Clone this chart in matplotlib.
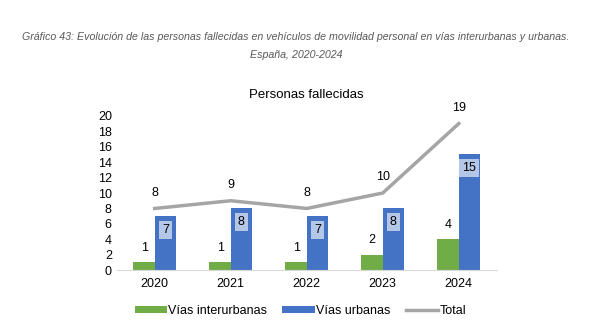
import matplotlib.pyplot as plt
import numpy as np

years = ['2020', '2021', '2022', '2023', '2024']
interurbanas = [1, 1, 1, 2, 4]
urbanas = [7, 8, 7, 8, 15]
total = [8, 9, 8, 10, 19]

plt.rcParams['font.family'] = ['Liberation Sans', 'DejaVu Sans']

fig = plt.figure(figsize=(6.08, 3.36), dpi=100)
ax = fig.add_axes([0.192, 0.196, 0.625, 0.459])

x = np.arange(len(years))
w = 0.28
b1 = ax.bar(x - w / 2, interurbanas, width=w, color='#70ad47', label='Vías interurbanas')
b2 = ax.bar(x + w / 2, urbanas, width=w, color='#4472c4', label='Vías urbanas')
l1, = ax.plot(x, total, color='#a5a5a5', linewidth=2.5, label='Total')

for i in range(len(years)):
    ax.annotate(str(interurbanas[i]), (x[i] - w / 2, interurbanas[i]), xytext=(0, 6),
                textcoords='offset points', ha='center', va='bottom', fontsize=9)
    ax.annotate(str(urbanas[i]), (x[i] + w / 2, urbanas[i]), xytext=(0, -10),
                textcoords='offset points', ha='center', va='center', fontsize=9,
                bbox=dict(boxstyle='square,pad=0.25', fc='#b4c7e7', ec='none'))
    ax.annotate(str(total[i]), (x[i], total[i]), xytext=(0, 7),
                textcoords='offset points', ha='center', va='bottom', fontsize=9)

ax.set_xlim(-0.5, 4.5)
ax.set_ylim(0, 20)
ax.set_yticks(range(0, 21, 2))
ax.set_xticks(x)
ax.set_xticklabels(years)
ax.tick_params(axis='both', length=0, labelsize=9)
ax.tick_params(axis='x', pad=6)
for s in ['top', 'right', 'left']:
    ax.spines[s].set_visible(False)
ax.spines['bottom'].set_color('#d9d9d9')

ax.set_title('Personas fallecidas', fontsize=9.5, pad=13)

fig.text(0.487, 0.88, 'Gráfico 43: Evolución de las personas fallecidas en vehículos de movilidad personal en vías interurbanas y urbanas.',
         ha='center', fontsize=7.7, style='italic', color='#595959')
fig.text(0.487, 0.826, 'España, 2020-2024', ha='center', fontsize=7.7, style='italic', color='#595959')

fig.legend([b1, b2, l1], ['Vías interurbanas', 'Vías urbanas', 'Total'],
           loc='center', bbox_to_anchor=(0.494, 0.075), ncol=3, frameon=False, fontsize=9,
           handlelength=2.6, handleheight=0.5, columnspacing=1.2, handletextpad=0.1)

fig.savefig('out.png', dpi=100)
